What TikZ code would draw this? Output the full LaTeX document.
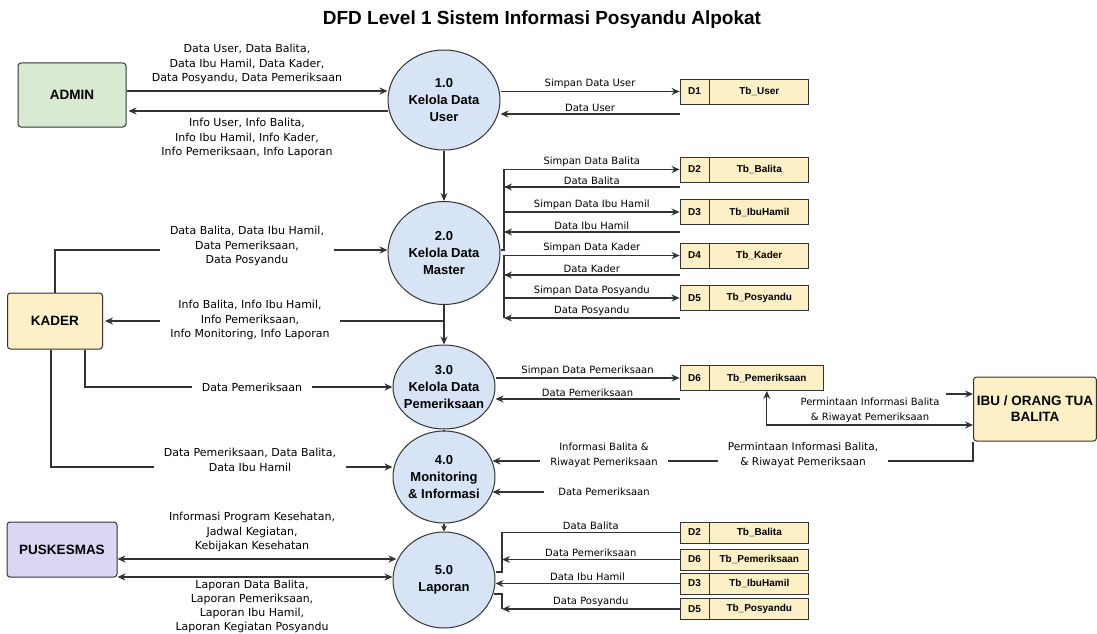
\documentclass[tikz,border=0pt]{standalone}
\usepackage{fontspec}
\setmainfont{Liberation Sans}
\newfontfamily\lblfont{DejaVu Sans}
\usetikzlibrary{arrows.meta,shapes.geometric,positioning}
\definecolor{procblue}{HTML}{D6E4F6}
\definecolor{storeyel}{HTML}{FDF0C6}
\definecolor{admgreen}{HTML}{D8EAD2}
\definecolor{puskpurple}{HTML}{DCD6F4}
\definecolor{edge}{HTML}{333333}

\begin{document}
\begin{tikzpicture}[x=1pt, y=-1pt, >={Stealth[length=8pt,width=7pt]},
  proc/.style={ellipse, draw=edge, fill=procblue, line width=1pt, inner sep=0pt},
  ptext/.style={align=center, font=\bfseries\fontsize{13}{17}\selectfont},
  ent/.style={draw=edge, rounded corners=3pt, line width=1pt, align=center, font=\bfseries\fontsize{13.5}{16}\selectfont},
  dnum/.style={draw=edge, fill=storeyel, line width=0.8pt, minimum width=29pt, inner sep=0pt, font=\bfseries\fontsize{10}{12}\selectfont},
  dname/.style={dnum, minimum width=99pt},
  flow/.style={->, draw=edge, line width=1.3pt},
  line/.style={draw=edge, line width=1.3pt},
  lbl/.style={font=\lblfont\fontsize{10}{14.5}\selectfont, align=center, inner sep=2pt},
  lblbig/.style={lbl, font=\lblfont\fontsize{11}{14.5}\selectfont},
  gap/.style={lblbig, fill=white, inner xsep=10pt, inner ysep=1pt}]
\useasboundingbox[fill=white] (0,0) rectangle (1097,634);

\node[font=\bfseries\fontsize{19}{22}\selectfont] (title) at (542,20) {DFD Level 1 Sistem Informasi Posyandu Alpokat};

% entities
\node[ent, fill=admgreen, minimum width=108pt, minimum height=64pt] (admin) at (72,95) {ADMIN};
\node[ent, fill=storeyel, minimum width=95pt, minimum height=56pt] (kader) at (55,321) {KADER};
\node[ent, fill=puskpurple, minimum width=110pt, minimum height=55pt] (pusk) at (62,549.5) {PUSKESMAS};
\node[ent, fill=storeyel, minimum width=122pt, minimum height=64pt] (ibu) at (1035,409) {IBU / ORANG TUA\\BALITA};

% processes
\node[proc, minimum width=112pt, minimum height=100pt] (c1) at (444,100) {};
\node[ptext] (c1t) at (c1) {1.0\\Kelola Data\\User};
\node[proc, minimum width=112pt, minimum height=103pt] (c2) at (444,253) {};
\node[ptext] (c2t) at (c2) {2.0\\Kelola Data\\Master};
\node[proc, minimum width=102pt, minimum height=84pt] (c3) at (444,387) {};
\node[ptext] (c3t) at (c3) {3.0\\Kelola Data\\Pemeriksaan};
\node[proc, minimum width=102pt, minimum height=92pt] (c4) at (444,477) {};
\node[ptext] (c4t) at (c4) {4.0\\Monitoring\\\& Informasi};
\node[proc, minimum width=102pt, minimum height=96pt] (c5) at (444,580) {};
\node[ptext] (c5t) at (c5) {5.0\\Laporan};

% data stores
\node[dnum, minimum height=25pt] (d1) at (694.5,91.5) {D1};
\node[dname, minimum height=25pt, right=0pt of d1] (tb1) {Tb\_User};
\node[dnum, minimum height=25pt] (d2) at (694.5,169.5) {D2};
\node[dname, minimum height=25pt, right=0pt of d2] (tb2) {Tb\_Balita};
\node[dnum, minimum height=25pt] (d3) at (694.5,212) {D3};
\node[dname, minimum height=25pt, right=0pt of d3] (tb3) {Tb\_IbuHamil};
\node[dnum, minimum height=25pt] (d4) at (694.5,255.5) {D4};
\node[dname, minimum height=25pt, right=0pt of d4] (tb4) {Tb\_Kader};
\node[dnum, minimum height=25pt] (d5) at (694.5,298) {D5};
\node[dname, minimum height=25pt, right=0pt of d5] (tb5) {Tb\_Posyandu};
\node[dnum, minimum height=25pt] (d6) at (694.5,378) {D6};
\node[dname, minimum height=25pt, minimum width=114pt, right=0pt of d6] (tb6) {Tb\_Pemeriksaan};

\node[dnum, minimum height=21pt] (e2) at (694.5,532.5) {D2};
\node[dname, minimum height=21pt, right=0pt of e2] (te2) {Tb\_Balita};
\node[dnum, minimum height=21pt] (e6) at (694.5,559.5) {D6};
\node[dname, minimum height=21pt, right=0pt of e6] (te6) {Tb\_Pemeriksaan};
\node[dnum, minimum height=21pt] (e3) at (694.5,583.5) {D3};
\node[dname, minimum height=21pt, right=0pt of e3] (te3) {Tb\_IbuHamil};
\node[dnum, minimum height=21pt] (e5) at (694.5,609) {D5};
\node[dname, minimum height=21pt, right=0pt of e5] (te5) {Tb\_Posyandu};

\coordinate (bus2) at (504,0);
\coordinate (bus5) at (502,0);
\coordinate (b1) at ([yshift=-22.5pt]d1.west);
\coordinate (b2) at ([yshift=-17.5pt]d2.west);
\coordinate (b3) at ([yshift=-20pt]d3.west);
\coordinate (b4) at ([yshift=-19.5pt]d4.west);
\coordinate (b5) at ([yshift=-20pt]d5.west);
\coordinate (b6) at ([yshift=-21pt]d6.west);

% process chain
\draw[flow] (c1) -- (c2);
\draw[flow] (c2) -- (c3);
\draw[line] (c3) -- (c4);
\draw[flow, >={Stealth[length=6pt,width=6pt]}] (c4) -- (c5);

% admin
\coordinate (a1) at ([yshift=9pt]c1.west);
\coordinate (a2) at ([yshift=-11pt]c1.west);
\draw[flow] (admin.east |- a1) -- (a1);
\draw[flow, shorten >=2pt] (a2) -- (a2 -| admin.east);
\node[lblbig] (la1) at (247,64) {Data User, Data Balita,\\Data Ibu Hamil, Data Kader,\\Data Posyandu, Data Pemeriksaan};
\node[lblbig] (la2) at (247,138) {Info User, Info Balita,\\Info Ibu Hamil, Info Kader,\\Info Pemeriksaan, Info Laporan};

% 1.0 and 2.0 stores
\draw[flow] (d1.west -| c1.east) -- node[lbl, above] {Simpan Data User} (d1.west);
\draw[flow] (b1) -- node[lbl, above] {Data User} (b1 -| c1.east);
\draw[flow] ([yshift=3pt]c2.east) -| (bus2 |- d2.west) -- node[lbl, above] {Simpan Data Balita} (d2.west);
\draw[flow] (bus2 |- d3.west) -- node[lbl, above] {Simpan Data Ibu Hamil} (d3.west);
\draw[flow] (b2) -- node[lbl, above] {Data Balita} (b2 -| bus2);
\draw[flow] (b3) -- node[lbl, above] {Data Ibu Hamil} (b3 -| bus2);
\draw[flow] (bus2 |- b5) -- (bus2 |- d4.west) -- node[lbl, above] {Simpan Data Kader} (d4.west);
\draw[flow] (bus2 |- d5.west) -- node[lbl, above] {Simpan Data Posyandu} (d5.west);
\draw[flow] (b4) -- node[lbl, above] {Data Kader} (b4 -| bus2);
\draw[flow] (b5) -- node[lbl, above] {Data Posyandu} (b5 -| bus2);

% 3.0 store
\draw[flow] (d6.west -| c3.east) -- node[lbl, above] {Simpan Data Pemeriksaan} (d6.west);
\draw[flow] (b6) -- node[lbl, above] {Data Pemeriksaan} (b6 -| c3.east);

% ibu / orang tua
\coordinate (i1) at ([yshift=-16pt]ibu.west);
\coordinate (i2) at ([yshift=15pt]ibu.west);
\coordinate (i2s) at ([xshift=-27pt]i2);
\draw[flow, <->] (tb6.south) |- (i1);
\draw[flow] (i2s) -- (i2);
\node[lbl] (li1) at (870,410) {Permintaan Informasi Balita\\\& Riwayat Pemeriksaan};
\coordinate (c4m) at ([xshift=-3pt,yshift=16pt]c4.east);
\draw[flow] (ibu.south west) |- (c4m);
\node[gap, font=\lblfont\fontsize{10.6}{14.5}\selectfont] (li2) at (803,455) {Permintaan Informasi Balita,\\\& Riwayat Pemeriksaan};
\node[gap, font=\lblfont\fontsize{10}{14.5}\selectfont] (li3) at (604,455) {Informasi Balita \&\\Riwayat Pemeriksaan};
\coordinate (c4n) at ([xshift=-3pt,yshift=-15pt]c4.east);
\node[lbl] (l4) at (604,492) {Data Pemeriksaan};
\draw[flow, shorten <=12pt] (l4.west) -- (c4n);

% kader
\coordinate (c2w) at ([yshift=3pt]c2.west);
\draw[flow] (kader.north) |- (c2w);
\draw[flow, shorten >=2pt] (c2.south |- kader.east) -- (kader.east);
\coordinate (k3) at ([xshift=30pt]kader.south);
\draw[flow] (k3) |- (c3.west);
\coordinate (k4) at ([xshift=-4pt]kader.south);
\coordinate (c4w) at ([yshift=10pt]c4.west);
\draw[flow] (k4) |- (c4w);
\node[gap] (lk1) at (247,246) {Data Balita, Data Ibu Hamil,\\Data Pemeriksaan,\\Data Posyandu};
\node[gap] (lk2) at (250,320) {Info Balita, Info Ibu Hamil,\\Info Pemeriksaan,\\Info Monitoring, Info Laporan};
\node[gap] (lk3) at (252,387) {Data Pemeriksaan};
\node[gap] (lk4) at (250,460) {Data Pemeriksaan, Data Balita,\\Data Ibu Hamil};

% puskesmas
\coordinate (p1) at ([xshift=4pt,yshift=21pt]c5.west);
\coordinate (p2) at ([yshift=3pt]c5.west);
\draw[flow, <->] (pusk.east |- p1) -- (p1);
\draw[flow, <->] (pusk.east |- p2) -- (p2);
\node[lblbig] (lp1) at (252,532) {Informasi Program Kesehatan,\\Jadwal Kegiatan,\\Kebijakan Kesehatan};
\node[lblbig, font=\lblfont\fontsize{11}{14}\selectfont] (lp2) at (252,606.5) {Laporan Data Balita,\\Laporan Pemeriksaan,\\Laporan Ibu Hamil,\\Laporan Kegiatan Posyandu};

% 5.0 stores
\coordinate (c5a) at ([yshift=8pt]c5.east);
\coordinate (c5b) at ([xshift=-2pt,yshift=-14pt]c5.east);
\draw[line] (e2.west) -- node[lbl, above] {Data Balita} (e2.west -| bus5) |- (c5a);
\draw[flow] (e6.west) -- node[lbl, above] {Data Pemeriksaan} (e6.west -| bus5);
\draw[flow] (e3.west) -- node[lbl, above] {Data Ibu Hamil} (e3.west -| c5.east);
\draw[line] (c5b) -| (bus5 |- e5.west);
\draw[flow] (e5.west) -- node[lbl, above] {Data Posyandu} (e5.west -| bus5);

\end{tikzpicture}
\end{document}
